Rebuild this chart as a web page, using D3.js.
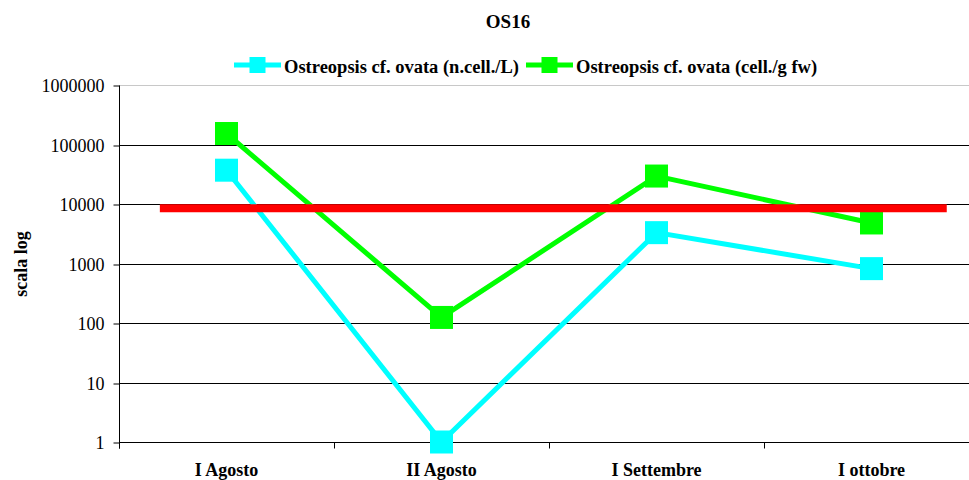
<!DOCTYPE html>
<html>
<head>
<meta charset="utf-8">
<script src="https://cdn.jsdelivr.net/npm/d3@7"></script>
<style>
  body { margin: 0; background: #fff; }
  svg { display: block; }
</style>
</head>
<body>
<div id="content"></div>
<script>
// Dati
const categories = ['I Agosto', 'II Agosto', 'I Settembre', 'I ottobre'];
const cellsPerLitre = [37000, 1, 3300, 820];
const cellsPerGram = [153000, 124, 29500, 4800];
const threshold = 8500;
const yTicks = [1, 10, 100, 1000, 10000, 100000, 1000000];
const seriesNames = ['Ostreopsis cf. ovata (n.cell./L)', 'Ostreopsis cf. ovata (cell./g fw)'];

const width = 969;
const height = 480;
const plotLeft = 119, plotRight = 979, plotTop = 85, plotBottom = 442;
const font = '"Liberation Serif", "Times New Roman", serif';

const svg = d3.select('#content')
    .append('svg')
    .attr('width', width)
    .attr('height', height)
    .style('font-family', font);

// Scale
const x = d3.scaleBand().domain(categories).range([plotLeft, plotRight]);
const xi = d3.scaleLinear().domain([-0.5, categories.length - 0.5]).range([plotLeft, plotRight]);
const y = d3.scaleLog().domain([1, 1000000]).range([plotBottom, plotTop]);

// Griglia
svg.append('g')
    .selectAll('line')
    .data(yTicks)
    .join('line')
    .attr('x1', plotLeft)
    .attr('x2', plotRight)
    .attr('y1', d => Math.round(y(d)) + 0.5)
    .attr('y2', d => Math.round(y(d)) + 0.5)
    .attr('stroke', d => d === 1000000 ? '#c8c8c8' : '#000')
    .attr('stroke-width', 1);

// Asse Y
const yAxis = svg.append('g')
    .attr('transform', `translate(${plotLeft + 0.5}, 0.5)`)
    .call(d3.axisLeft(y).tickValues(yTicks).tickFormat(d3.format('d')).tickSize(6).tickPadding(9));
yAxis.attr('font-family', null);
yAxis.select('.domain').attr('d', `M0,${plotTop}V${plotBottom + 6}`);
yAxis.selectAll('.tick line').attr('transform', d => `translate(0,${Math.round(y(d)) - y(d)})`);
yAxis.selectAll('text')
    .attr('transform', d => `translate(0,${Math.round(y(d)) - y(d)})`)
    .style('font-family', font)
    .style('font-size', '18px')
    .attr('fill', '#000');

// Asse X
const xAxis = svg.append('g')
    .attr('transform', `translate(0, ${plotBottom + 0.5})`)
    .call(d3.axisBottom(x).tickSize(0).tickPadding(21));
xAxis.attr('font-family', null);
xAxis.select('.domain').attr('d', `M${plotLeft},0H${plotRight}`);
xAxis.selectAll('text')
    .style('font-family', font)
    .style('font-size', '18px')
    .style('font-weight', 'bold')
    .attr('fill', '#000');
xAxis.selectAll('.bound')
    .data(d3.range(categories.length + 1))
    .join('line')
    .attr('class', 'bound')
    .attr('x1', i => Math.round(plotLeft + i * x.bandwidth()) + 0.5)
    .attr('x2', i => Math.round(plotLeft + i * x.bandwidth()) + 0.5)
    .attr('y1', 0)
    .attr('y2', 6)
    .attr('stroke', '#000');

// Titolo asse Y
svg.append('text')
    .attr('transform', `translate(27, 264) rotate(-90)`)
    .attr('text-anchor', 'middle')
    .style('font-size', '18px')
    .style('font-weight', 'bold')
    .text('scala log');

// Titolo
svg.append('text')
    .attr('x', 508)
    .attr('y', 28)
    .attr('text-anchor', 'middle')
    .style('font-size', '19px')
    .style('font-weight', 'bold')
    .text('OS16');

// Serie
const series = [
    { values: cellsPerLitre, color: '#00ffff' },
    { values: cellsPerGram, color: '#00ff00' }
];
const line = d3.line()
    .x((d, i) => x(categories[i]) + x.bandwidth() / 2)
    .y(d => y(d));
const marker = 23;

series.forEach(s => {
    const g = svg.append('g');
    g.append('path')
        .attr('d', line(s.values))
        .attr('fill', 'none')
        .attr('stroke', s.color)
        .attr('stroke-width', 5);
    g.selectAll('rect')
        .data(s.values)
        .join('rect')
        .attr('x', (d, i) => x(categories[i]) + x.bandwidth() / 2 - marker / 2)
        .attr('y', d => y(d) - marker / 2)
        .attr('width', marker)
        .attr('height', marker)
        .attr('fill', s.color);
});

// Soglia
svg.append('line')
    .attr('x1', xi(-0.31))
    .attr('x2', xi(3.35))
    .attr('y1', y(threshold))
    .attr('y2', y(threshold))
    .attr('stroke', '#ff0000')
    .attr('stroke-width', 8);

// Legenda
const legend = svg.append('g').attr('transform', 'translate(234, 65)');
let lx = 0;
seriesNames.forEach((name, i) => {
    const item = legend.append('g').attr('transform', `translate(${lx}, 0)`);
    item.append('line')
        .attr('x1', 0).attr('x2', 47)
        .attr('stroke', series[i].color)
        .attr('stroke-width', 5);
    item.append('rect')
        .attr('x', 15.5).attr('y', -8)
        .attr('width', 16).attr('height', 16)
        .attr('fill', series[i].color);
    const t = item.append('text')
        .attr('x', 50)
        .attr('y', 8)
        .style('font-size', '18.5px')
        .style('font-weight', 'bold')
        .text(name);
    lx += 50 + t.node().getComputedTextLength() + 7;
});
</script>
</body>
</html>
